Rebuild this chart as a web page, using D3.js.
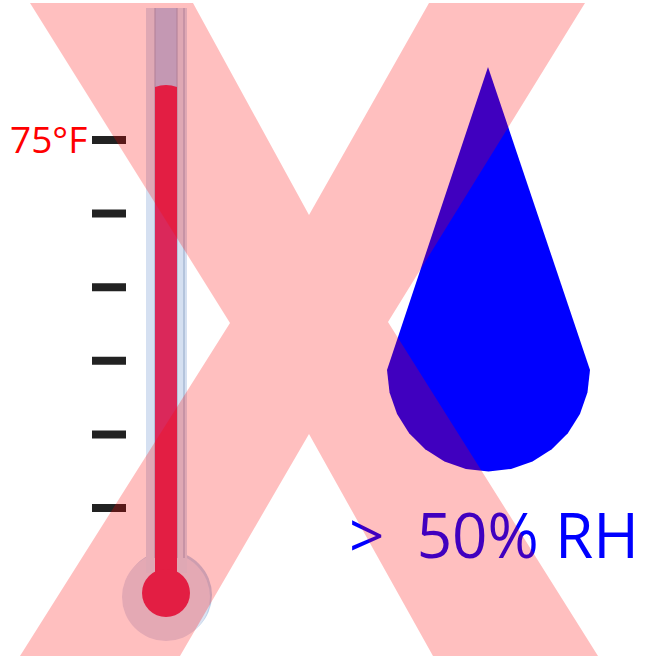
<!DOCTYPE html>
<html>
<head>
<meta charset="utf-8">
<script src="https://d3js.org/d3.v7.min.js"></script>
<style>
html, body { margin: 0; padding: 0; background: #fff; }
svg { display: block; }
text { white-space: pre; }
</style>
</head>
<body>
<div id="chart"></div>
<script>
// thermometer readings, degrees F
var tempTicks = [75, 70, 65, 60, 55, 50];
var tempLabels = ["75°F"];
var mercuryTop = 78.7;
var mercuryBottom = 45;
var humidityLabels = [">  50% RH"];

var width = 649, height = 657;

var svg = d3.select("#chart").append("svg")
	.attr("width", width)
	.attr("height", height);

var tempScale = d3.scaleLinear().domain([75, 50]).range([139.5, 507.5]);

// tick marks
var axis = d3.axisRight(tempScale)
	.tickValues(tempTicks)
	.tickSize(34)
	.tickFormat("");

var axisG = svg.append("g")
	.attr("transform", "translate(92,0)")
	.call(axis);
axisG.select(".domain").remove();
axisG.selectAll("line")
	.attr("stroke", "#222")
	.attr("stroke-width", 8);

// label on the top tick only
svg.selectAll(".temp-label")
	.data(tempLabels)
	.enter()
	.append("text")
	.attr("class", "temp-label")
	.attr("x", 10)
	.attr("y", tempScale(tempTicks[0]) + 13)
	.attr("font-family", "Open Sans")
	.attr("font-size", 37)
	.attr("fill", "#f00")
	.text(function(d) { return d; });

// glass: a paler shadow disc sits just behind the bulb
svg.append("circle")
	.attr("cx", 168).attr("cy", 595).attr("r", 44)
	.attr("fill", "#bcd2ea");
svg.append("circle")
	.attr("cx", 166).attr("cy", 597).attr("r", 44)
	.attr("fill", "#dbe2f1");
svg.append("rect")
	.attr("x", 146).attr("y", 8).attr("width", 41).attr("height", 565)
	.attr("fill", "#d5e0f1");
svg.append("rect")
	.attr("x", 155).attr("y", 8).attr("width", 22).attr("height", 100)
	.attr("fill", "#b0cbef");
svg.selectAll(".glass-edge")
	.data([155, 177, 184])
	.enter()
	.append("line")
	.attr("class", "glass-edge")
	.attr("x1", function(d) { return d; })
	.attr("x2", function(d) { return d; })
	.attr("y1", 8)
	.attr("y2", 558)
	.attr("stroke", "#9fb0ce")
	.attr("stroke-opacity", 0.6)
	.attr("stroke-width", 2);

// mercury
var mercury = d3.path();
var mTop = tempScale(mercuryTop), mBottom = tempScale(mercuryBottom);
mercury.moveTo(155, mBottom);
mercury.lineTo(155, mTop + 2);
mercury.quadraticCurveTo(166, mTop - 2, 177, mTop + 2);
mercury.lineTo(177, mBottom);
mercury.closePath();
svg.append("path")
	.attr("d", mercury.toString())
	.attr("fill", "#da285a");
svg.append("circle")
	.attr("cx", 166).attr("cy", 593).attr("r", 24)
	.attr("fill", "#da285a");

// water drop: straight sides down to a faceted half circle
var dropR = 101.5, dropX = 488.5, dropY = 370;
var arcPoints = d3.range(0, 15).map(function(i) {
	var a = Math.PI * i / 14;
	return [dropX + dropR * Math.cos(a), dropY + dropR * Math.sin(a)];
});
svg.append("path")
	.attr("d", d3.line()([[dropX - 0.5, 67]].concat(arcPoints)) + "Z")
	.attr("fill", "#00f");

svg.selectAll(".rh-label")
	.data(humidityLabels)
	.enter()
	.append("text")
	.attr("class", "rh-label")
	.attr("x", 349)
	.attr("y", 558)
	.attr("font-family", "Open Sans")
	.attr("font-size", 62)
	.attr("fill", "#00f")
	.text(function(d) { return d; });

// the big X goes over everything
var cross = [[30, 3], [193, 3], [309, 215], [429, 3], [585, 3], [388, 322],
	[598, 656], [433, 656], [309, 434], [180, 656], [20, 656], [230, 323]];
svg.append("path")
	.attr("d", d3.line()(cross) + "Z")
	.attr("fill", "#f00")
	.attr("fill-opacity", 0.25);
</script>
</body>
</html>
